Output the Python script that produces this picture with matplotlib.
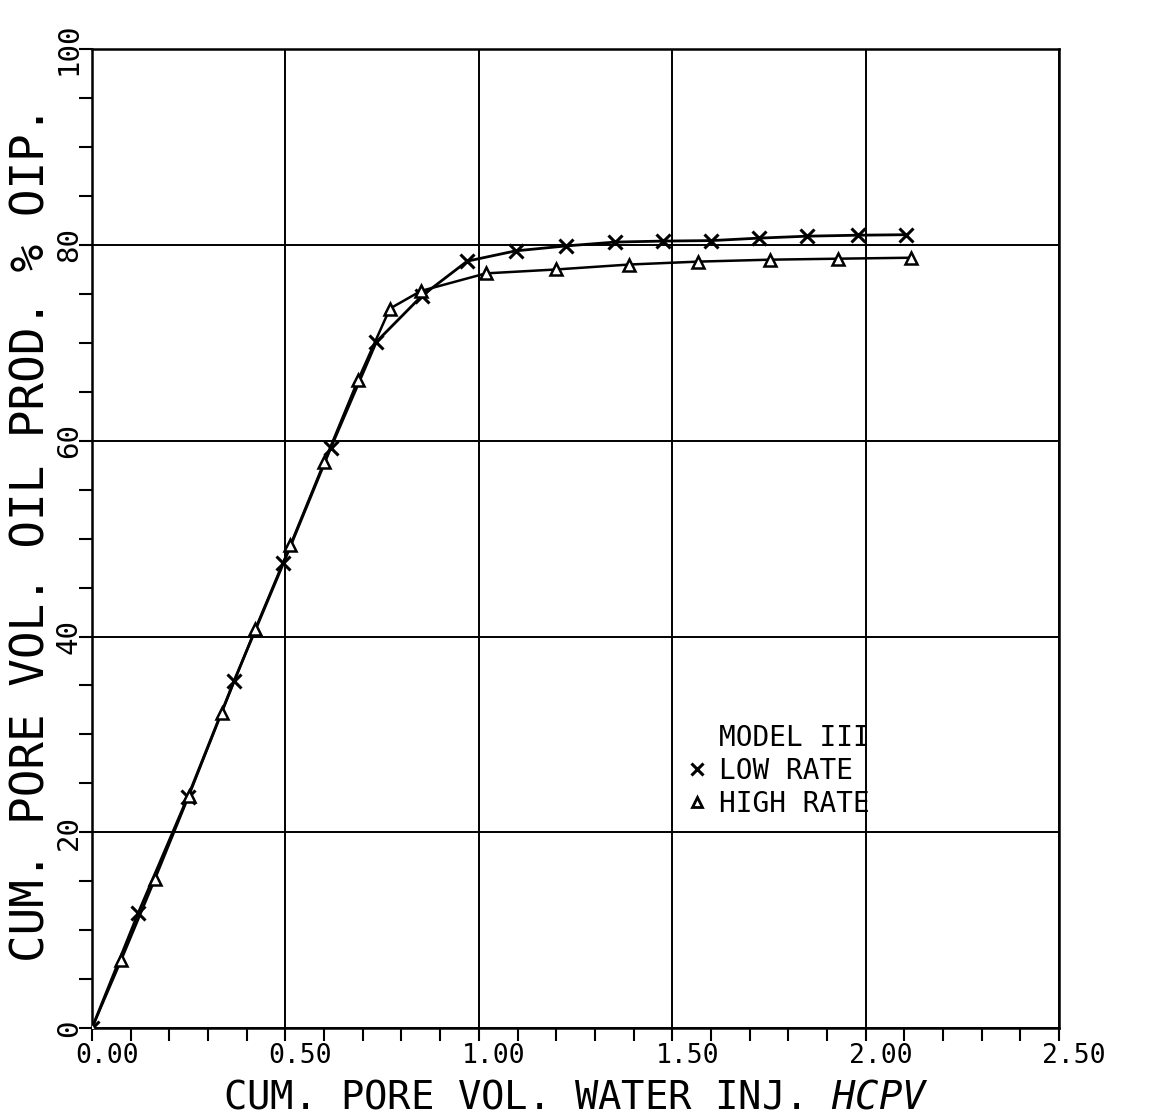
import matplotlib
matplotlib.use("Agg")
import numpy as np
from matplotlib import pyplot as plt
from matplotlib.lines import Line2D
from matplotlib.transforms import ScaledTranslation

# low rate run (x markers)
low_x = [0.0, 0.12, 0.2475, 0.3675, 0.495, 0.6175, 0.735, 0.8525, 0.97, 1.095,
         1.224, 1.353, 1.476, 1.601, 1.723, 1.848, 1.979, 2.103]
low_y = [0.0, 11.8, 23.6, 35.5, 47.5, 59.3, 70.1, 74.8, 78.35, 79.4,
         79.9, 80.3, 80.4, 80.45, 80.7, 80.9, 81.0, 81.05]

# high rate run (triangles)
high_x = [0.0, 0.075, 0.1625, 0.25, 0.335, 0.4225, 0.5125, 0.60, 0.6875, 0.77,
          0.85, 1.018, 1.20, 1.387, 1.566, 1.753, 1.928, 2.118]
high_y = [0.0, 6.9, 15.2, 23.7, 32.2, 40.8, 49.3, 57.8, 66.2, 73.5,
          75.3, 77.1, 77.5, 78.0, 78.3, 78.5, 78.6, 78.7]

x_ticks = [0.0, 0.5, 1.0, 1.5, 2.0, 2.5]
x_labels = ["0.00", "0.50", "1.00", "1.50", "2.00", "2.50"]
y_ticks = [0, 20, 40, 60, 80, 100]
y_labels = ["0", "20", "40", "60", "80", "100"]

X_LABEL = "CUM. PORE VOL. WATER INJ. $\\it{HCPV}$"
Y_LABEL = "CUM. PORE VOL. OIL PROD. % OIP."

plt.rcParams["font.family"] = ["DejaVu Sans Mono"]
plt.rcParams["mathtext.fontset"] = "custom"
plt.rcParams["mathtext.it"] = "DejaVu Sans Mono:italic"
plt.rcParams["mathtext.rm"] = "DejaVu Sans Mono"

fig = plt.figure(figsize=(11.5, 11.19), dpi=100)
ax = fig.add_axes([0.080, 0.0813, 0.841, 0.8747])

ax.plot(low_x, low_y, color="black", lw=2.0, marker="x", ms=10, mew=2.2, zorder=3)
ax.plot(high_x, high_y, color="black", lw=1.8, marker="^", ms=8, mew=1.8,
        mfc="white", zorder=3)

ax.set_xlim(0, 2.5)
ax.set_ylim(0, 100)
ax.set_xticks(x_ticks)
ax.set_xticklabels(x_labels, fontsize=19)
ax.set_xticks(np.arange(0, 2.51, 0.1), minor=True)
ax.set_yticks(y_ticks)
ax.set_yticklabels(y_labels, fontsize=21, rotation=90, va="center")
ax.set_yticks(np.arange(0, 101, 5), minor=True)

ax.tick_params(which="both", direction="out", length=9.5, width=1.5, colors="black")
ax.tick_params(axis="x", pad=1)
ax.tick_params(axis="y", pad=-3)

# plotter offset on the x labels
for lab in ax.get_xticklabels():
    lab.set_transform(lab.get_transform() + ScaledTranslation(0.15, 0, fig.dpi_scale_trans))

ax.grid(which="major", color="black", lw=1.4)
for sp in ax.spines.values():
    sp.set_linewidth(1.8)

ax.set_xlabel(X_LABEL, fontsize=28, va="baseline")
ax.set_ylabel(Y_LABEL, fontsize=33, va="baseline")
ax.xaxis.set_label_coords(0.5, -0.0827)
ax.yaxis.set_label_coords(-0.049, 0.505)

handles = [
    Line2D([], [], ls="none", marker="x", color="black", ms=8, mew=2.2),
    Line2D([], [], ls="none", marker="^", color="black", ms=7, mew=2.0, mfc="white"),
]
leg = ax.legend(handles, ["LOW RATE", "HIGH RATE"], title="MODEL III",
                loc="upper right", bbox_to_anchor=(2.01, 31.1),
                bbox_transform=ax.transData, frameon=False, fontsize=20,
                title_fontsize=20, handlelength=0.8, handletextpad=0.4,
                labelspacing=0.18, borderpad=0, borderaxespad=0,
                alignment="right")

fig.savefig("out.png", dpi=100, facecolor="white")
